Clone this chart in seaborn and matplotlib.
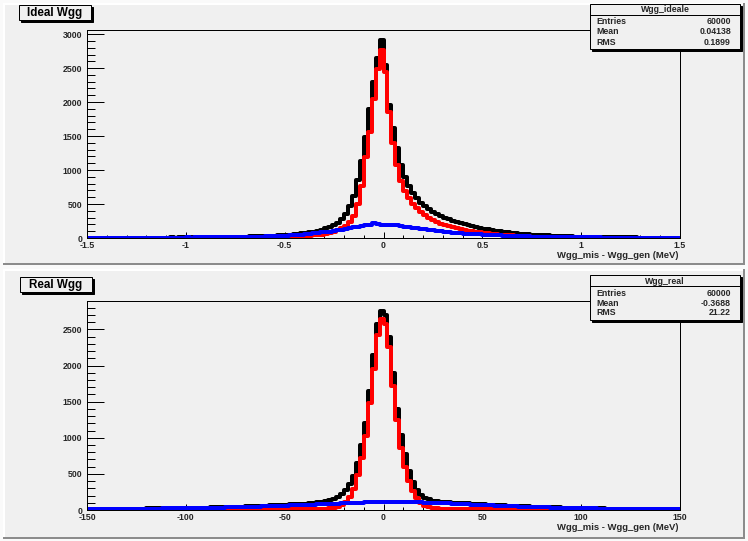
import numpy as np
import pandas as pd
import matplotlib
matplotlib.use("Agg")
import matplotlib.pyplot as plt
from matplotlib.patches import Rectangle
from matplotlib.ticker import MultipleLocator, FuncFormatter
import seaborn as sns

# ---------------------------------------------------------------------------
# Histogram contents (150 bins each)
# ---------------------------------------------------------------------------
ideal_range = (-1.5, 1.5)
real_range = (-150.0, 150.0)
n_bins = 150

ideal_all = [
    4, 5, 4, 5, 4, 4, 5, 6, 5, 5,
    5, 6, 5, 5, 6, 6, 7, 7, 7, 7,
    7, 9, 7, 9, 9, 9, 9, 10, 11, 12,
    11, 13, 13, 14, 16, 15, 17, 18, 20, 21,
    22, 24, 25, 27, 29, 31, 33, 35, 38, 41,
    45, 49, 54, 60, 67, 75, 84, 95, 108, 123,
    140, 160, 185, 225, 285, 360, 470, 620, 860, 1130,
    1490, 1900, 2300, 2650, 2915, 2550, 1960, 1620, 1320, 1080,
    900, 770, 665, 590, 520, 465, 420, 385, 352, 325,
    300, 277, 256, 237, 220, 204, 189, 175, 162, 150,
    139, 128, 118, 109, 100, 92, 85, 78, 72, 66,
    61, 56, 51, 47, 43, 40, 37, 34, 31, 29,
    27, 25, 23, 21, 20, 18, 17, 16, 15, 14,
    13, 12, 11, 11, 10, 9, 9, 8, 8, 7,
    7, 7, 6, 6, 6, 5, 5, 5, 4, 4,
]
ideal_core = [
    1, 0, 1, 1, 0, 1, 1, 1, 0, 1,
    1, 1, 1, 0, 1, 1, 1, 2, 1, 1,
    1, 2, 1, 2, 2, 1, 2, 2, 2, 3,
    2, 3, 3, 3, 4, 3, 4, 4, 5, 5,
    6, 7, 7, 8, 9, 10, 11, 12, 13, 15,
    16, 18, 20, 23, 26, 29, 33, 38, 44, 51,
    60, 72, 90, 115, 145, 180, 235, 320, 500, 760,
    1190, 1560, 2050, 2480, 2770, 2450, 1850, 1400, 1080, 840,
    690, 590, 500, 435, 380, 335, 290, 260, 232, 210,
    190, 172, 156, 140, 127, 116, 106, 97, 89, 82,
    75, 68, 62, 56, 51, 46, 42, 38, 34, 31,
    28, 25, 22, 20, 18, 16, 14, 13, 12, 11,
    10, 9, 8, 7, 7, 6, 6, 5, 5, 4,
    4, 4, 3, 3, 3, 3, 2, 2, 2, 2,
    2, 2, 1, 2, 1, 1, 1, 1, 1, 1,
]
ideal_wide = [
    3, 4, 3, 4, 4, 3, 4, 5, 4, 4,
    4, 5, 4, 5, 5, 5, 6, 5, 6, 6,
    6, 7, 6, 7, 7, 8, 7, 8, 9, 9,
    9, 10, 10, 11, 12, 12, 13, 14, 15, 16,
    17, 18, 19, 20, 22, 23, 25, 27, 29, 31,
    34, 37, 41, 45, 50, 55, 61, 67, 74, 81,
    88, 95, 104, 114, 124, 135, 146, 157, 168, 178,
    187, 196, 218, 203, 198, 196, 193, 190, 184, 176,
    168, 160, 151, 143, 135, 127, 118, 111, 104, 97,
    91, 85, 80, 75, 70, 66, 62, 58, 55, 52,
    49, 46, 43, 40, 37, 35, 33, 31, 29, 27,
    25, 24, 22, 21, 20, 19, 17, 16, 15, 14,
    13, 13, 12, 11, 10, 10, 9, 9, 8, 8,
    7, 7, 7, 6, 6, 6, 5, 5, 5, 5,
    4, 5, 4, 4, 4, 3, 4, 3, 3, 4,
]

real_all = [
    12, 13, 13, 14, 13, 15, 15, 15, 16, 16,
    17, 18, 17, 19, 19, 21, 21, 21, 23, 23,
    24, 25, 25, 27, 27, 29, 29, 31, 32, 33,
    34, 36, 36, 38, 39, 42, 42, 44, 46, 48,
    50, 51, 54, 56, 58, 60, 63, 65, 68, 70,
    75, 78, 80, 83, 86, 89, 93, 98, 105, 114,
    125, 140, 158, 185, 225, 275, 355, 470, 650, 900,
    1200, 1650, 2150, 2570, 2755, 2700, 2400, 1890, 1400, 1040,
    770, 540, 390, 280, 212, 170, 146, 131, 121, 115,
    110, 106, 103, 100, 97, 94, 92, 88, 85, 82,
    79, 76, 73, 70, 67, 64, 62, 59, 57, 55,
    52, 50, 48, 45, 43, 42, 39, 38, 36, 35,
    32, 32, 30, 29, 28, 26, 26, 24, 23, 22,
    21, 20, 20, 18, 18, 17, 17, 16, 15, 15,
    14, 14, 13, 13, 11, 13, 12, 10, 12, 11,
]
real_core = [
    1, 1, 2, 1, 1, 2, 1, 2, 2, 1,
    2, 2, 1, 2, 2, 3, 2, 2, 3, 2,
    3, 3, 2, 3, 3, 4, 3, 4, 4, 4,
    4, 5, 4, 5, 5, 6, 5, 6, 6, 7,
    7, 7, 8, 8, 9, 9, 10, 10, 11, 11,
    12, 12, 13, 13, 14, 14, 15, 16, 16, 17,
    18, 23, 31, 46, 72, 115, 185, 295, 480, 720,
    1030, 1480, 1950, 2420, 2650, 2580, 2250, 1720, 1250, 860,
    600, 400, 262, 162, 98, 62, 42, 30, 23, 19,
    17, 16, 15, 15, 14, 13, 13, 12, 12, 11,
    11, 10, 10, 9, 9, 8, 8, 7, 7, 7,
    6, 6, 6, 5, 5, 5, 4, 4, 4, 4,
    3, 4, 3, 3, 3, 2, 3, 2, 2, 2,
    2, 2, 2, 1, 2, 1, 2, 1, 1, 1,
    1, 1, 1, 1, 0, 1, 1, 0, 1, 1,
]
real_wide = [
    11, 12, 11, 13, 12, 13, 14, 13, 14, 15,
    15, 16, 16, 17, 17, 18, 19, 19, 20, 21,
    21, 22, 23, 24, 24, 25, 26, 27, 28, 29,
    30, 31, 32, 33, 34, 36, 37, 38, 40, 41,
    43, 44, 46, 48, 49, 51, 53, 55, 57, 59,
    61, 63, 65, 67, 69, 71, 73, 75, 78, 80,
    82, 84, 86, 88, 90, 93, 95, 97, 100, 102,
    104, 107, 109, 112, 114, 116, 115, 117, 114, 113,
    112, 110, 108, 106, 104, 102, 100, 98, 96, 94,
    92, 90, 88, 85, 83, 81, 79, 76, 73, 71,
    68, 66, 63, 61, 58, 56, 54, 52, 50, 48,
    46, 44, 42, 40, 38, 37, 35, 34, 32, 31,
    29, 28, 27, 26, 25, 24, 23, 22, 21, 20,
    19, 18, 18, 17, 16, 16, 15, 15, 14, 14,
    13, 13, 12, 12, 11, 12, 11, 10, 11, 10,
]

ideal_stats = ("Wgg_ideale", [("Entries", "60000"), ("Mean", "0.04138"), ("RMS", "0.1899")])
real_stats = ("Wgg_real", [("Entries", "60000"), ("Mean", "-0.3688"), ("RMS", "21.22")])
x_title = "Wgg_mis - Wgg_gen (MeV)"

# ---------------------------------------------------------------------------
# Style
# ---------------------------------------------------------------------------
W, H = 748, 541
PX = 0.72  # points per pixel at dpi 100
PAD_COLOR = "#f0f0f0"
SERIES_COLORS = ["#000000", "#ff0000", "#0000ff"]

sns.set_theme(style="white")
plt.rcParams["font.family"] = ["Liberation Sans", "DejaVu Sans"]
plt.rcParams["font.weight"] = "bold"
plt.rcParams["axes.unicode_minus"] = False

fig = plt.figure(figsize=(W / 100, H / 100), dpi=100, facecolor=PAD_COLOR)

# canvas / pad decoration layer (pixel coordinates, y downward)
bg = fig.add_axes([0, 0, 1, 1], zorder=-10)
bg.set_xlim(0, W)
bg.set_ylim(H, 0)
bg.axis("off")
bg.add_patch(Rectangle((0, 0), W, H, facecolor="#fafafa", edgecolor="none"))


def draw_pad(x0, y0, x1, y1, b=2):
    bg.add_patch(Rectangle((x0, y0), x1 - x0, y1 - y0, facecolor=PAD_COLOR, edgecolor="none"))
    bg.add_patch(Rectangle((x0, y0), x1 - x0, b, facecolor="#ffffff", edgecolor="none"))
    bg.add_patch(Rectangle((x0, y0), b, y1 - y0, facecolor="#ffffff", edgecolor="none"))
    bg.add_patch(Rectangle((x0, y1 - b), x1 - x0, b, facecolor="#8c8c8c", edgecolor="none"))
    bg.add_patch(Rectangle((x1 - b, y0), b, y1 - y0, facecolor="#8c8c8c", edgecolor="none"))


draw_pad(3, 3, 745, 265)
draw_pad(3, 269, 745, 539)

# overlay for title boxes and statistics boxes
ov = fig.add_axes([0, 0, 1, 1], zorder=10)
ov.set_xlim(0, W)
ov.set_ylim(H, 0)
ov.axis("off")
ov.patch.set_alpha(0)


def boxed(x0, y0, w, h, shadow=2):
    ov.add_patch(Rectangle((x0 + shadow, y0 + shadow), w, h, facecolor="black",
                           edgecolor="black", linewidth=PX))
    ov.add_patch(Rectangle((x0, y0), w, h, facecolor=PAD_COLOR,
                           edgecolor="black", linewidth=PX))


def title_box(x0, y0, text):
    boxed(x0, y0, 72, 15)
    ov.text(x0 + 36, y0 + 7.8, text, ha="center", va="center",
            fontsize=8.4, fontweight="bold", color="black")


def stats_box(x0, y0, name, rows, row_y):
    w, h = 150, 45
    boxed(x0, y0, w, h)
    ov.plot([x0, x0 + w], [y0 + 11, y0 + 11], color="black", linewidth=PX)
    ov.text(x0 + w / 2, y0 + 6, name, ha="center", va="center",
            fontsize=6.3, fontweight="bold")
    for (label, value), yy in zip(rows, row_y):
        ov.text(x0 + 6, y0 + yy, label, ha="left", va="center", fontsize=6.3, fontweight="bold")
        ov.text(x0 + w - 9, y0 + yy, value, ha="right", va="center", fontsize=6.3, fontweight="bold")


def fmt(v, pos):
    return "%g" % v


def hist_panel(rect, xr, counts_list, x_major, x_minor, y_major, y_minor):
    ax = fig.add_axes(rect, zorder=0)
    ax.patch.set_alpha(0)
    width = (xr[1] - xr[0]) / n_bins
    centers = xr[0] + width * (np.arange(n_bins) + 0.5)
    for counts, color in zip(counts_list, SERIES_COLORS):
        df = pd.DataFrame({"x": centers, "n": counts})
        sns.histplot(data=df, x="x", weights="n", bins=n_bins, binrange=xr,
                     element="step", fill=False, color=color,
                     linewidth=4 * PX, ax=ax)
    ymax = 1.05 * max(counts_list[0])
    ax.set_xlim(*xr)
    ax.set_ylim(0, ymax)
    ax.set_xlabel("")
    ax.set_ylabel("")
    for s in ax.spines.values():
        s.set_visible(True)
        s.set_color("black")
        s.set_linewidth(PX)
    ax.xaxis.set_major_locator(MultipleLocator(x_major))
    ax.xaxis.set_minor_locator(MultipleLocator(x_minor))
    ax.yaxis.set_major_locator(MultipleLocator(y_major))
    ax.yaxis.set_minor_locator(MultipleLocator(y_minor))
    ax.xaxis.set_major_formatter(FuncFormatter(fmt))
    ax.yaxis.set_major_formatter(FuncFormatter(fmt))
    ax.tick_params(axis="y", which="major", direction="in", length=16.5 * PX,
                   width=PX, color="black", labelsize=6.3, pad=3.6, left=True, right=False)
    ax.tick_params(axis="y", which="minor", direction="in", length=8 * PX,
                   width=PX, color="black", left=True, right=False)
    ax.tick_params(axis="x", which="major", direction="in", length=6 * PX,
                   width=PX, color="black", labelsize=6.3, pad=2.0, bottom=True, top=False)
    ax.tick_params(axis="x", which="minor", direction="in", length=3 * PX,
                   width=PX, color="black", bottom=True, top=False)
    for lab in ax.get_xticklabels() + ax.get_yticklabels():
        lab.set_fontweight("bold")
    return ax


def frame_rect(x0, y0, x1, y1):
    return [x0 / W, 1 - y1 / H, (x1 - x0) / W, (y1 - y0) / H]


ax_top = hist_panel(frame_rect(87, 30, 680, 238), ideal_range,
                    [ideal_all, ideal_core, ideal_wide], 0.5, 0.1, 500, 100)
ax_bot = hist_panel(frame_rect(87, 301, 680, 510), real_range,
                    [real_all, real_core, real_wide], 50, 10, 500, 100)

ov.text(679, 255, x_title, ha="right", va="center", fontsize=6.8, fontweight="bold")
ov.text(679, 527, x_title, ha="right", va="center", fontsize=6.8, fontweight="bold")

title_box(19, 5, "Ideal Wgg")
title_box(20, 277, "Real Wgg")

stats_box(590, 4, ideal_stats[0], ideal_stats[1], [17.5, 28, 38.5])
stats_box(590, 275, real_stats[0], real_stats[1], [19, 28.5, 37.5])

fig.savefig("out.png", dpi=100, facecolor=fig.get_facecolor())
